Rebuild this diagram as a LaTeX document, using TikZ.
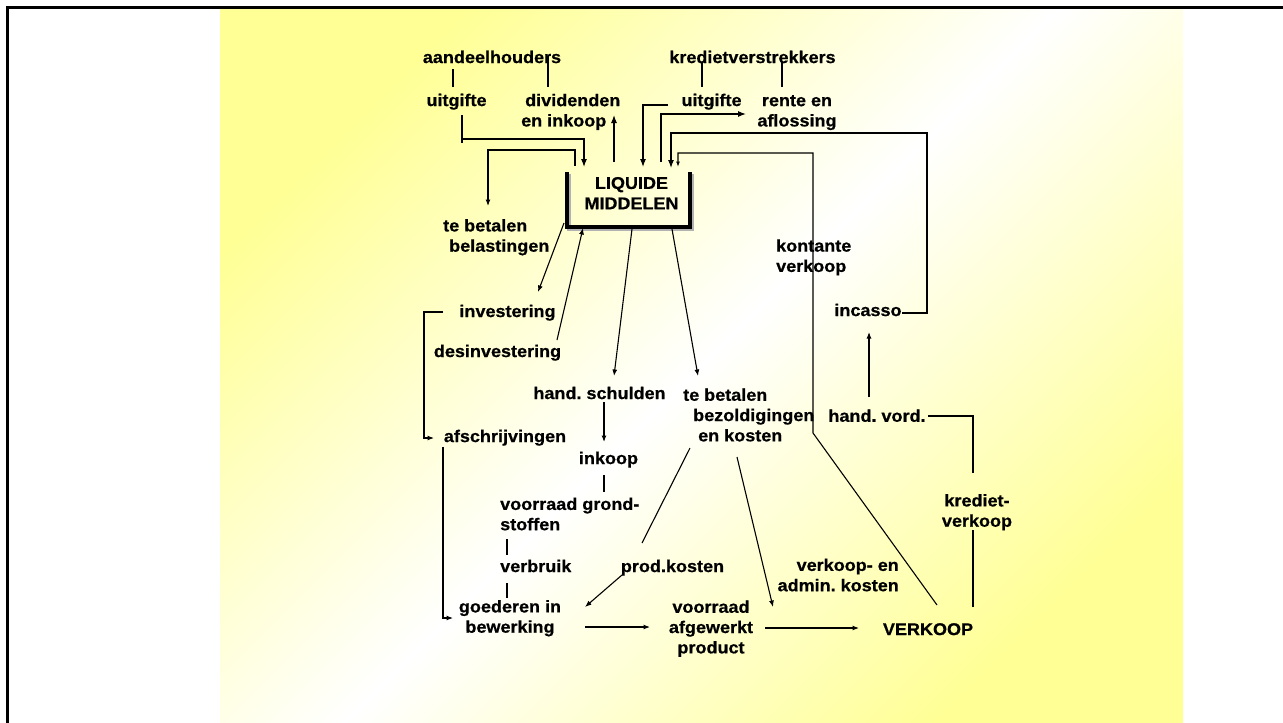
\documentclass[tikz,border=0pt]{standalone}
\usepackage{fontspec}
\setmainfont{Liberation Sans Bold}[FakeStretch=1.06,FakeBold=0.6]
\usetikzlibrary{arrows.meta}
\definecolor{yel}{RGB}{255,255,150}
\frenchspacing
\begin{document}
\begin{tikzpicture}[x=1pt,y=-1pt,
  lbl/.style={font=\fontsize{17}{20.3}\selectfont\frenchspacing, inner sep=0pt},
  con/.style={line width=1.1pt},
  arr/.style={con,-{Latex[length=6.5pt,width=5pt]}},
  bigarr/.style={con,-{Latex[length=8pt,width=6pt]}},
  smallarr/.style={con,-{Latex[length=5.5pt,width=4pt]}},
]
\useasboundingbox (0,0) rectangle (1283,723);
\shade[top color=yel,bottom color=yel,middle color=white,shading angle=45] (220,9) rectangle (1183,723);
\draw[line width=2.5pt] (7.25,723) -- (7.25,7.25) -- (1283,7.25);

% ---------- nodes ----------
\node[lbl] (aand) at (492,59) {\strut aandeelhouders};
\node[lbl] (kred) at (752.5,59) {\strut kredietverstrekkers};
\node[lbl] (uitL) at (456.5,102) {\strut uitgifte};
\node[lbl,align=left,anchor=west] (div) at (521,112.25) {\strut\hspace*{4pt}dividenden\\\strut en inkoop};
\node[lbl] (uitR) at (711.5,102) {\strut uitgifte};
\node[lbl,align=center] (rente) at (797,112.25) {\strut rente en\\\strut aflossing};
\node[lbl,align=center] (lm) at (631.5,195) {\strut LIQUIDE\\\strut MIDDELEN};
\node[lbl,align=left,anchor=west] (bel) at (443,237.5) {\strut te betalen\\\strut\hspace*{6pt}belastingen};
\node[lbl] (inv) at (507.5,313) {\strut investering};
\node[lbl] (desinv) at (497.5,353) {\strut desinvestering};
\node[lbl] (hs) at (599.5,395) {\strut hand. schulden};
\node[lbl,align=left,anchor=west] (bez) at (683,417) {\strut te betalen\\\strut\hspace*{10pt}bezoldigingen\\\strut\hspace*{15pt}en kosten};
\node[lbl] (afs) at (505,438) {\strut afschrijvingen};
\node[lbl] (ink) at (608.5,460) {\strut inkoop};
\node[lbl,align=left,anchor=west] (vgs) at (500,516) {\strut voorraad grond-\\\strut stoffen};
\node[lbl,anchor=west] (verb) at (500,568) {\strut verbruik};
\node[lbl] (prod) at (672.5,568) {\strut prod.kosten};
\node[lbl,align=center] (gib) at (510,618.5) {\strut goederen in\\\strut bewerking};
\node[lbl,align=center] (vap) at (711,629) {\strut voorraad\\\strut afgewerkt\\\strut product};
\node[lbl] (verk) at (928,631) {\strut VERKOOP};
\node[lbl,align=right,anchor=east] (vak) at (899,577) {\strut verkoop- en\\\strut admin. kosten};
\node[lbl,align=left,anchor=west] (kont) at (776,257.7) {\strut kontante\\\strut verkoop};
\node[lbl] (inc) at (868,312) {\strut incasso};
\node[lbl] (hv) at (877,417.7) {\strut hand. vord.};
\node[lbl,align=center] (kv) at (977,512.5) {\strut krediet-\\\strut verkoop};

% ---------- LIQUIDE MIDDELEN bracket ----------
\coordinate (lmTL) at (567,172);
\coordinate (lmBL) at (567,227);
\coordinate (lmBR) at (690,227);
\coordinate (lmTR) at (690,172);
\draw[line width=4pt,gray!60] ([xshift=1.5pt,yshift=-1.5pt]lmTL) -- ([xshift=1.5pt,yshift=-1.5pt]lmBL) -- ([xshift=1.5pt,yshift=-1.5pt]lmBR) -- ([xshift=1.5pt,yshift=-1.5pt]lmTR);
\draw[line width=4pt] (lmTL) -- (lmBL) -- (lmBR) -- (lmTR);

% ---------- connector points ----------
\coordinate (aandL) at (453,69);   \coordinate (uitLt) at (453,87);
\coordinate (aandR) at (548,56);   \coordinate (divt) at (548,87);
\coordinate (kredL) at (702,62);   \coordinate (uitRt) at (702,87);
\coordinate (kredR) at (782,62);   \coordinate (rentet) at (782,87);
\coordinate (uitLb) at (462,115);  \coordinate (c1) at (462,139); \coordinate (c1b) at (462,143);
\coordinate (c2) at (584,139);     \coordinate (lmIn1) at (584,167);
\coordinate (lmOut1) at (614,162); \coordinate (divb) at (614,115);
\coordinate (lmOut2) at (575,166); \coordinate (c3) at (575,150); \coordinate (c4) at (488,150); \coordinate (belt) at (488,206);
\coordinate (uitRl) at (668,105);  \coordinate (c5) at (643,105); \coordinate (lmIn2) at (643,167);
\coordinate (lmOut3) at (661,162); \coordinate (c6) at (661,114); \coordinate (rentel) at (746,114);
\coordinate (incr) at (902,313);   \coordinate (c7) at (927,313); \coordinate (c8) at (927,133); \coordinate (c9) at (671,133); \coordinate (lmIn3) at (671,168);
\coordinate (verkt) at (937,605);  \coordinate (c10) at (813,433); \coordinate (c11) at (813,153); \coordinate (c12) at (678,153); \coordinate (lmIn4) at (678,167);
\coordinate (lmOut4) at (564,223); \coordinate (invt) at (538,292);
\coordinate (desinvr) at (557,340); \coordinate (lmIn5) at (583,228);
\coordinate (lmOut5) at (632,229); \coordinate (hst) at (614,376);
\coordinate (lmOut6) at (672,229); \coordinate (bezt) at (698,376);
\coordinate (invl) at (443,312);   \coordinate (c13) at (424,312); \coordinate (c14) at (424,438); \coordinate (afsl) at (434,438);
\coordinate (afsb) at (443,447);   \coordinate (c15) at (443,618); \coordinate (gibl) at (453,618);
\coordinate (hsb) at (604,402);    \coordinate (inkt) at (604,442);
\coordinate (inkb) at (604,475);   \coordinate (vgst) at (604,492);
\coordinate (vgsb) at (507,539);   \coordinate (verbt) at (507,555);
\coordinate (verbb) at (507,583);  \coordinate (gibt) at (507,598);
\coordinate (bezb1) at (690,448);  \coordinate (prodt) at (642,543);
\coordinate (prodl) at (622,575);  \coordinate (gibr) at (585,607);
\coordinate (bezb2) at (737,457);  \coordinate (vakb) at (773,607);
\coordinate (gibe) at (585,627);   \coordinate (vapl) at (650,627);
\coordinate (vapr) at (765,628);   \coordinate (verkl) at (859,628);
\coordinate (verkr) at (973,607);  \coordinate (kvb) at (973,530);
\coordinate (kvt) at (973,473);    \coordinate (c16) at (973,416); \coordinate (hvr) at (928,416);
\coordinate (hvt) at (869,397);    \coordinate (incb) at (869,332);

% ---------- connectors ----------
\draw[con] (aandL) -- (uitLt);
\draw[con] (aandR) -- (divt);
\draw[con] (kredL) -- (uitRt);
\draw[con] (kredR) -- (rentet);
\draw[bigarr] (uitLb) -- (c1) -- (c2) -- (lmIn1);
\draw[con] (c1) -- (c1b);
\draw[bigarr] (lmOut1) -- (divb);
\draw[arr] (lmOut2) -- (c3) -- (c4) -- (belt);
\draw[bigarr] (uitRl) -- (c5) -- (lmIn2);
\draw[bigarr] (lmOut3) -- (c6) -- (rentel);
\draw[bigarr] (incr) -- (c7) -- (c8) -- (c9) -- (lmIn3);
\draw[smallarr] (verkt) -- (c10) -- (c11) -- (c12) -- (lmIn4);
\draw[arr] (lmOut4) -- (invt);
\draw[arr] (desinvr) -- (lmIn5);
\draw[arr] (lmOut5) -- (hst);
\draw[arr] (lmOut6) -- (bezt);
\draw[arr] (invl) -- (c13) -- (c14) -- (afsl);
\draw[arr] (afsb) -- (c15) -- (gibl);
\draw[arr] (hsb) -- (inkt);
\draw[con] (inkb) -- (vgst);
\draw[con] (vgsb) -- (verbt);
\draw[con] (verbb) -- (gibt);
\draw[con] (bezb1) -- (prodt);
\draw[arr] (prodl) -- (gibr);
\draw[arr] (bezb2) -- (vakb);
\draw[arr] (gibe) -- (vapl);
\draw[arr] (vapr) -- (verkl);
\draw[con] (verkr) -- (kvb);
\draw[con] (kvt) -- (c16) -- (hvr);
\draw[arr] (hvt) -- (incb);
\end{tikzpicture}
\end{document}
